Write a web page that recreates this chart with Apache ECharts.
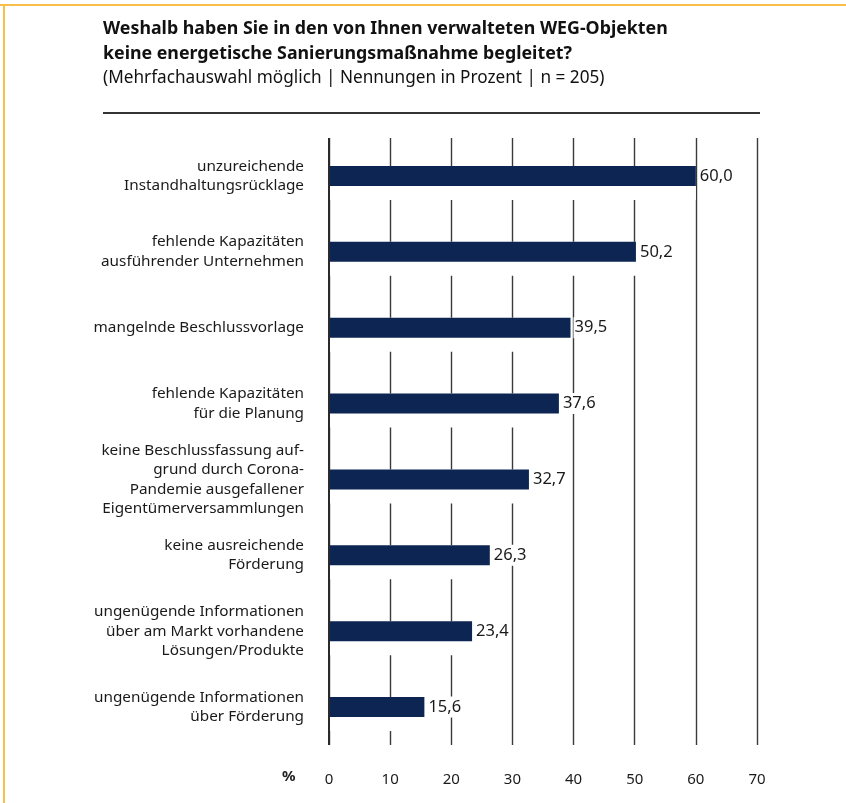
<!DOCTYPE html>
<html>
<head>
<meta charset="utf-8">
<script src="https://cdn.jsdelivr.net/npm/echarts@6/dist/echarts.min.js"></script>
<style>
html,body{margin:0;padding:0;background:#fff;}
#c{width:846px;height:803px;}
</style>
</head>
<body>
<div id="c"></div>
<script>
var categories = [
  "unzureichende\nInstandhaltungsrücklage",
  "fehlende Kapazitäten\nausführender Unternehmen",
  "mangelnde Beschlussvorlage",
  "fehlende Kapazitäten\nfür die Planung",
  "keine Beschlussfassung auf-\ngrund durch Corona-\nPandemie ausgefallener\nEigentümerversammlungen",
  "keine ausreichende\nFörderung",
  "ungenügende Informationen\nüber am Markt vorhandene\nLösungen/Produkte",
  "ungenügende Informationen\nüber Förderung"
];
var values = [60.0, 50.2, 39.5, 37.6, 32.7, 26.3, 23.4, 15.6];
var xTicks = [0, 10, 20, 30, 40, 50, 60, 70];
var titleLine1 = "Weshalb haben Sie in den von Ihnen verwalteten WEG-Objekten";
var titleLine2 = "keine energetische Sanierungsmaßnahme begleitet?";
var subtitle = "(Mehrfachauswahl möglich | Nennungen in Prozent | n = 205)";
var unitLabel = "%";

var FONT = "'Noto Sans', 'Open Sans', sans-serif";
var chart = echarts.init(document.getElementById('c'), null, {renderer: 'canvas'});
chart.setOption({
  backgroundColor: '#ffffff',
  animation: false,
  grid: {left: 329, right: 89, top: 138, bottom: 58, containLabel: false},
  xAxis: {
    type: 'value', min: 0, max: 70, interval: 10,
    axisLine: {show: false}, axisTick: {show: false},
    axisLabel: {
      margin: 27, color: '#1a1a1a', fontFamily: FONT, fontSize: 15,
      formatter: function (v) { return xTicks.indexOf(v) >= 0 ? String(v) : ''; }
    },
    splitLine: {show: true, lineStyle: {color: '#3a3a3a', width: 1.4}}
  },
  yAxis: {
    type: 'category', data: categories, inverse: true,
    axisLine: {show: false},
    axisTick: {show: false},
    axisLabel: {margin: 25, color: '#1a1a1a', fontFamily: FONT, fontSize: 15.3, lineHeight: 19.5, align: 'right'}
  },
  series: [
    {
      type: 'bar', data: values, barWidth: 34, barGap: '-100%', silent: true,
      itemStyle: {color: '#ffffff'}, z: 1
    },
    {
      type: 'bar', data: values, barWidth: 20, z: 3,
      itemStyle: {color: '#0c2552'},
      label: {
        show: true, position: 'right', distance: 3, color: '#1a1a1a',
        fontFamily: FONT, fontSize: 16.5, backgroundColor: '#ffffff', padding: [2, 1],
        formatter: function (p) { return p.value.toFixed(1).replace('.', ','); }
      }
    },
    {
      type: 'line', data: [], z: 10, zlevel: 3, silent: true,
      markLine: {
        silent: true, symbol: ['none', 'none'], animation: false,
        label: {show: false},
        lineStyle: {type: 'solid', color: '#2a2a2a', width: 2},
        data: [{xAxis: 0}]
      }
    }
  ],
  graphic: [
    {type: 'rect', shape: {x: 0, y: 4, width: 846, height: 2}, style: {fill: '#f8c04a'}},
    {type: 'rect', shape: {x: 3, y: 4, width: 2, height: 799}, style: {fill: '#f8c04a'}},
    {type: 'text', left: 103, top: 20, style: {text: titleLine1, font: "bold 17.8px " + FONT, fill: '#111'}},
    {type: 'text', left: 103, top: 45, style: {text: titleLine2, font: "bold 17.8px " + FONT, fill: '#111'}},
    {type: 'text', left: 103, top: 70, style: {text: subtitle, font: "17.2px " + FONT, fill: '#111'}},
    {type: 'rect', shape: {x: 103, y: 112, width: 657, height: 2}, style: {fill: '#333'}},
    {type: 'text', left: 282, top: 769, style: {text: unitLabel, font: "bold 15px " + FONT, fill: '#222'}}
  ]
});
</script>
</body>
</html>
